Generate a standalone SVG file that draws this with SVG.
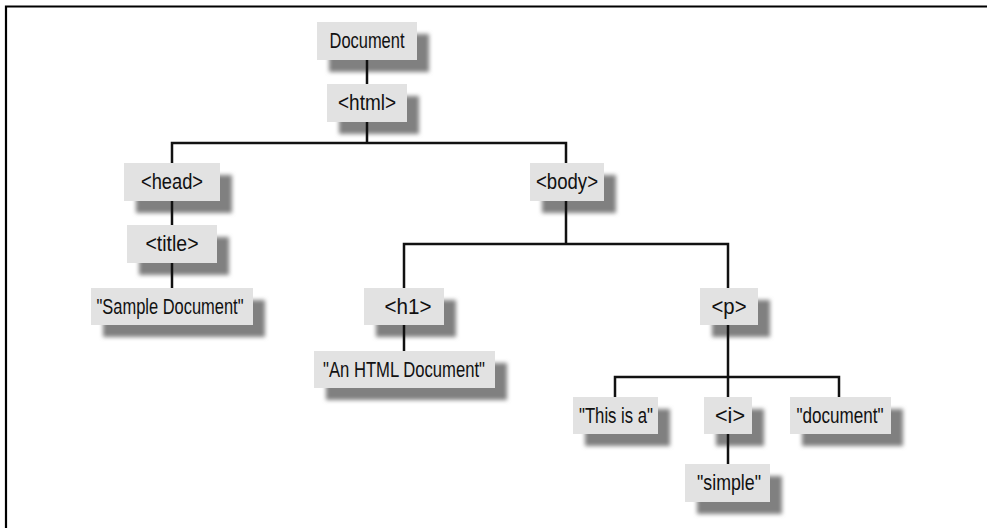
<svg xmlns="http://www.w3.org/2000/svg" width="987" height="528" viewBox="0 0 987 528">
<defs>
<filter id="blur" x="-20%" y="-40%" width="140%" height="180%">
<feGaussianBlur stdDeviation="2.2"/>
</filter>
<style>
.sh{fill:#808080;filter:url(#blur)}
.bx{fill:#e2e2e2}
.t{font-family:"Liberation Sans Narrow","Liberation Sans",Arial,sans-serif;font-size:22px;fill:#111;text-anchor:middle}
.c{fill:none;stroke:#111;stroke-width:2.5}
.frame{fill:none;stroke:#000;stroke-width:2.2}
</style>
</defs>
<rect width="987" height="528" fill="#fff"/>
<path class="frame" d="M6,528 V6.5 H987"/>

<g id="n-document"><rect class="sh" x="329" y="34" width="100" height="38"/><rect class="bx" x="317" y="22" width="100" height="38"/><text class="t" x="367" y="48" textLength="75" lengthAdjust="spacingAndGlyphs">Document</text></g>
<g id="n-html"><rect class="sh" x="339" y="96" width="80" height="38"/><rect class="bx" x="327" y="84" width="80" height="38"/><text class="t" x="367" y="110" textLength="58" lengthAdjust="spacingAndGlyphs">&lt;html&gt;</text></g>
<g id="n-head"><rect class="sh" x="136" y="175" width="96" height="38"/><rect class="bx" x="124" y="163" width="96" height="38"/><text class="t" x="172" y="189" textLength="62" lengthAdjust="spacingAndGlyphs">&lt;head&gt;</text></g>
<g id="n-title"><rect class="sh" x="139" y="237" width="90" height="38"/><rect class="bx" x="127" y="225" width="90" height="38"/><text class="t" x="172" y="251" textLength="53" lengthAdjust="spacingAndGlyphs">&lt;title&gt;</text></g>
<g id="n-sample"><rect class="sh" x="103" y="300" width="162" height="37"/><rect class="bx" x="91" y="288" width="162" height="37"/><text class="t" x="170" y="314" textLength="147" lengthAdjust="spacingAndGlyphs">"Sample Document"</text></g>
<g id="n-body"><rect class="sh" x="542" y="175" width="74" height="38"/><rect class="bx" x="530" y="163" width="74" height="38"/><text class="t" x="567" y="189" textLength="62" lengthAdjust="spacingAndGlyphs">&lt;body&gt;</text></g>
<g id="n-h1"><rect class="sh" x="376" y="300" width="80" height="37"/><rect class="bx" x="364" y="288" width="80" height="37"/><text class="t" x="408" y="314" textLength="47" lengthAdjust="spacingAndGlyphs">&lt;h1&gt;</text></g>
<g id="n-anhtml"><rect class="sh" x="326" y="363" width="181" height="37"/><rect class="bx" x="314" y="351" width="181" height="37"/><text class="t" x="404" y="377" textLength="162" lengthAdjust="spacingAndGlyphs">"An HTML Document"</text></g>
<g id="n-p"><rect class="sh" x="712" y="300" width="58" height="37"/><rect class="bx" x="700" y="288" width="58" height="37"/><text class="t" x="729" y="314" textLength="35" lengthAdjust="spacingAndGlyphs">&lt;p&gt;</text></g>
<g id="n-thisisa"><rect class="sh" x="585" y="409" width="85" height="37"/><rect class="bx" x="573" y="397" width="85" height="37"/><text class="t" x="616" y="423" textLength="74" lengthAdjust="spacingAndGlyphs">"This is a"</text></g>
<g id="n-i"><rect class="sh" x="716" y="409" width="48" height="37"/><rect class="bx" x="704" y="397" width="48" height="37"/><text class="t" x="730" y="423" textLength="30" lengthAdjust="spacingAndGlyphs">&lt;i&gt;</text></g>
<g id="n-document-text"><rect class="sh" x="802" y="409" width="101" height="37"/><rect class="bx" x="790" y="397" width="101" height="37"/><text class="t" x="840" y="423" textLength="87" lengthAdjust="spacingAndGlyphs">"document"</text></g>
<g id="n-simple"><rect class="sh" x="697" y="476" width="85" height="38"/><rect class="bx" x="685" y="464" width="85" height="38"/><text class="t" x="729" y="490" textLength="64" lengthAdjust="spacingAndGlyphs">"simple"</text></g>

<g id="connectors">
<path class="c" d="M367,60 V84"/>
<path class="c" d="M367,122 V143 M172,163 V143 H566 V163"/>
<path class="c" d="M172,201 V225"/>
<path class="c" d="M172,263 V288"/>
<path class="c" d="M566,201 V244 M404,288 V244 H728 V288"/>
<path class="c" d="M404,325 V351"/>
<path class="c" d="M728,325 V397 M615,397 V377 H839 V397"/>
<path class="c" d="M728,434 V464"/>
</g>
</svg>
